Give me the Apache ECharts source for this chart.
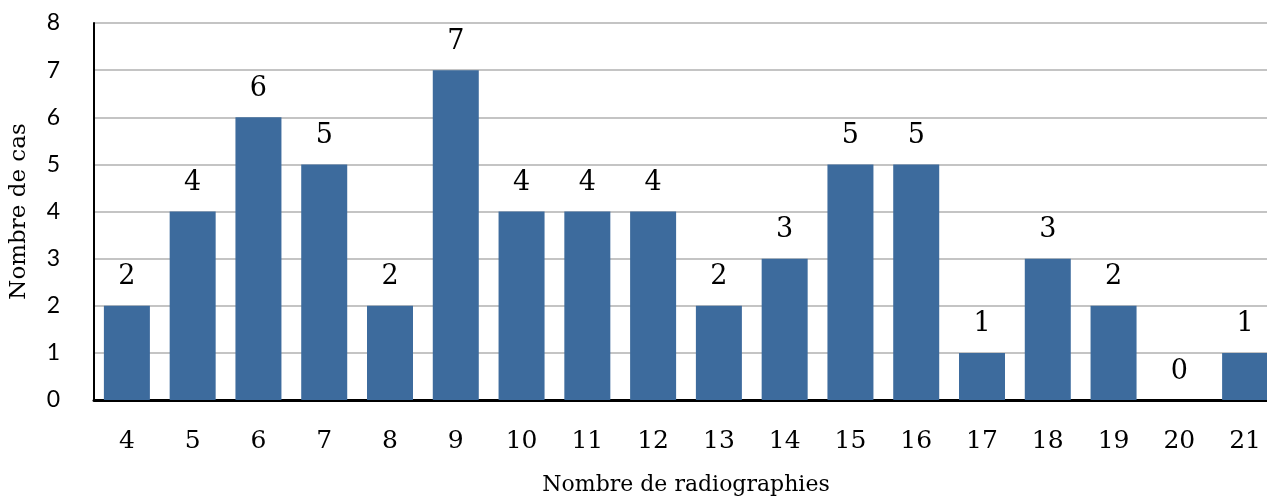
<!DOCTYPE html>
<html><head><meta charset="utf-8">
<script src="https://cdn.jsdelivr.net/npm/echarts@6/dist/echarts.min.js"></script>
<style>html,body{margin:0;padding:0;background:#fff;overflow:hidden}#c{width:1278px;height:501px}</style>
</head><body><div id="c"></div>
<script>
const categories = ['4','5','6','7','8','9','10','11','12','13','14','15','16','17','18','19','20','21'];
const cases = [2,4,6,5,2,7,4,4,4,2,3,5,5,1,3,2,0,1];
const yTicks = [0,1,2,3,4,5,6,7,8];

const chart = echarts.init(document.getElementById('c'), null, {renderer:'canvas'});
chart.setOption({
  animation:false,
  grid:{left:90, right:0, top:23, bottom:96, containLabel:false},
  xAxis:{
    type:'category', data:categories,
    name:'Nombre de radiographies', nameLocation:'middle', nameGap:74,
    nameTextStyle:{fontFamily:'DejaVu Serif', fontSize:22, color:'#000'},
    axisLine:{lineStyle:{color:'#000', width:3}},
    axisTick:{show:false},
    axisLabel:{fontFamily:'DejaVu Serif', fontSize:25, color:'#000', margin:29}
  },
  yAxis:{
    type:'value', min:0, max:8, interval:1,
    name:'Nombre de cas', nameLocation:'middle', nameGap:63,
    nameTextStyle:{fontFamily:'DejaVu Serif', fontSize:23, color:'#000'},
    axisLine:{show:true, lineStyle:{color:'#000', width:2}},
    axisTick:{show:false},
    axisLabel:{fontFamily:'Lato', fontSize:23, color:'#000', margin:34,
      formatter:v=>yTicks.includes(v)?String(v):''},
    splitLine:{lineStyle:{color:'#c4c4c4', width:2}}
  },
  series:[{
    type:'bar', data:cases, barWidth:46,
    itemStyle:{color:'#3d6b9d'},
    label:{show:true, position:'top', distance:15, fontFamily:'DejaVu Serif', fontSize:27, color:'#000'}
  }]
});
</script></body></html>
